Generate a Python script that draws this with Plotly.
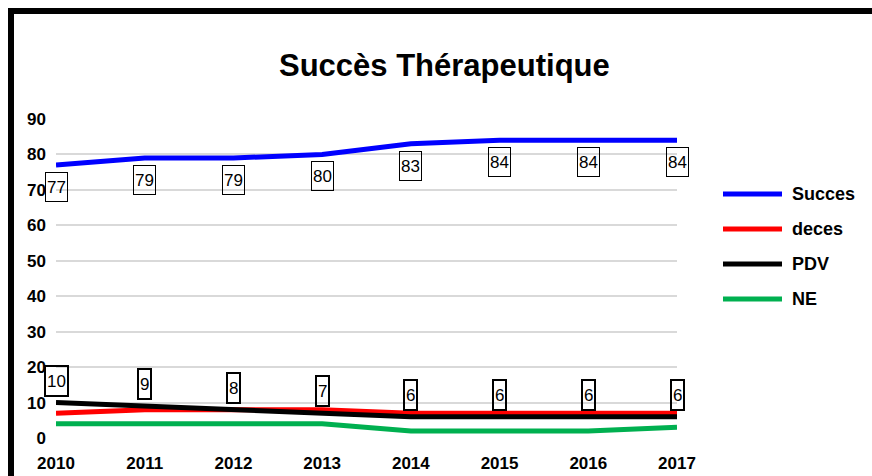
import plotly.graph_objects as go

years = [2010, 2011, 2012, 2013, 2014, 2015, 2016, 2017]
succes = [77, 79, 79, 80, 83, 84, 84, 84]
deces = [7, 8, 8, 8, 7, 7, 7, 7]
pdv = [10, 9, 8, 7, 6, 6, 6, 6]
ne = [4, 4, 4, 4, 2, 2, 2, 3]
y_ticks = [0, 10, 20, 30, 40, 50, 60, 70, 80, 90]

series_names = ["Succes", "deces", "PDV", "NE"]
series_colors = ["#0000ff", "#ff0000", "#000000", "#00b050"]

W, H = 872, 476
L, R, T, B = 56, 195, 119, 38
PW, PH = W - L - R, H - T - B

def px(x):
    return (x - L) / PW

def py(y):
    return (H - B - y) / PH

FONT = "Liberation Sans, Arial, sans-serif"

fig = go.Figure()
for name, vals, col in zip(series_names, [succes, deces, pdv, ne], series_colors):
    fig.add_trace(go.Scatter(x=years, y=vals, mode="lines", name=name,
                             line=dict(color=col, width=5), showlegend=False,
                             cliponaxis=False))

annotations = []
for x, v in zip(years, succes):
    annotations.append(dict(x=x, y=v, xref="x", yref="y", text=str(v), showarrow=False,
                            yshift=-22, bordercolor="black", borderwidth=1, borderpad=1, height=26,
                            font=dict(family=FONT, size=17, color="black")))
for x, v in zip(years, pdv):
    annotations.append(dict(x=x, y=v, xref="x", yref="y", text=str(v), showarrow=False,
                            yshift=22, bordercolor="black", borderwidth=2, borderpad=1, height=26,
                            font=dict(family=FONT, size=17, color="black")))

# title
annotations.append(dict(x=px(444), y=py(65), xref="paper", yref="paper", text="<b>Succès Thérapeutique</b>",
                        showarrow=False, xanchor="center", yanchor="middle",
                        font=dict(family=FONT, size=31, color="black")))

shapes = []
legend_y = [194, 229, 264, 299]
for name, col, ly in zip(series_names, series_colors, legend_y):
    shapes.append(dict(type="line", xref="paper", yref="paper", x0=px(723), x1=px(782),
                       y0=py(ly), y1=py(ly), line=dict(color=col, width=5)))
    annotations.append(dict(x=px(790), y=py(ly), xref="paper", yref="paper", text="<b>%s</b>" % name,
                            showarrow=False, xanchor="left", yanchor="middle",
                            font=dict(family=FONT, size=18, color="black")))

# outer frame
shapes.append(dict(type="rect", xref="paper", yref="paper", x0=px(11), x1=px(910),
                   y0=py(11), y1=py(520), line=dict(color="black", width=6), fillcolor="rgba(0,0,0,0)"))

fig.update_layout(
    width=W, height=H,
    margin=dict(l=L, r=R, t=T, b=B, pad=0, autoexpand=False),
    paper_bgcolor="white", plot_bgcolor="white",
    showlegend=False,
    annotations=annotations,
    shapes=shapes,
    xaxis=dict(range=[2010, 2017], tickmode="array", tickvals=years, ticktext=[str(y) for y in years],
               showgrid=False, zeroline=False, showline=False, ticks="", automargin=False,
               tickfont=dict(family=FONT, size=17, color="black", weight="bold"), ticklabelstandoff=13),
    yaxis=dict(range=[0, 90], tickmode="array", tickvals=y_ticks, showgrid=True, gridcolor="#d9d9d9",
               gridwidth=2, zeroline=False, showline=False, ticks="", automargin=False,
               tickfont=dict(family=FONT, size=17, color="black", weight="bold"), ticklabelstandoff=9),
)

fig.write_html("out.html", config={"displayModeBar": False},
               post_script="document.body.style.margin='0px';document.body.style.overflow='hidden';")
